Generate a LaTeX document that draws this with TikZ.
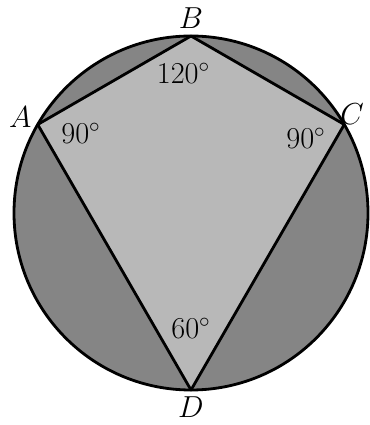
\documentclass[tikz,border=0pt]{standalone}
\usepackage{amsmath,amssymb}
\usepackage{xcolor}
\usepackage{tikz}
\usetikzlibrary{positioning,calc}

\begin{document}
\begin{tikzpicture}[
  lbl/.style={font=\LARGE},
  ang/.style={font=\LARGE}]
\useasboundingbox (-3.82,-4.24) rectangle (3.56,4.26);
% circle and inscribed kite
\coordinate (O) at (0,0);
\coordinate (A) at (150:3.54);
\coordinate (B) at (90:3.54);
\coordinate (C) at (30:3.54);
\coordinate (D) at (270:3.54);
\fill[black!48] (O) circle (3.54);
\fill[black!28] (A) -- (B) -- (C) -- (D) -- cycle;
\draw[line width=1.6pt] (O) circle (3.54);
\draw[line width=1.6pt,line join=round] (A) -- (B) -- (C) -- (D) -- cycle;
% vertex labels
\node[lbl,above=0.02 of B] (lB) {$B$};
\node[lbl,left=0.0 of A,yshift=4pt] (lA) {$A$};
\node[lbl,right=-0.12 of C,yshift=6pt,inner sep=1pt] (lC) {$C$};
\node[lbl,below=0.02 of D] (lD) {$D$};
% angles
\node[ang] (aB) at (-0.15,2.8) {$120^\circ$};
\node[ang] (aA) at (-2.2,1.6) {$90^\circ$};
\node[ang] (aC) at (2.3,1.5) {$90^\circ$};
\node[ang] (aD) at (0.0,-2.3) {$60^\circ$};
\end{tikzpicture}
\end{document}
